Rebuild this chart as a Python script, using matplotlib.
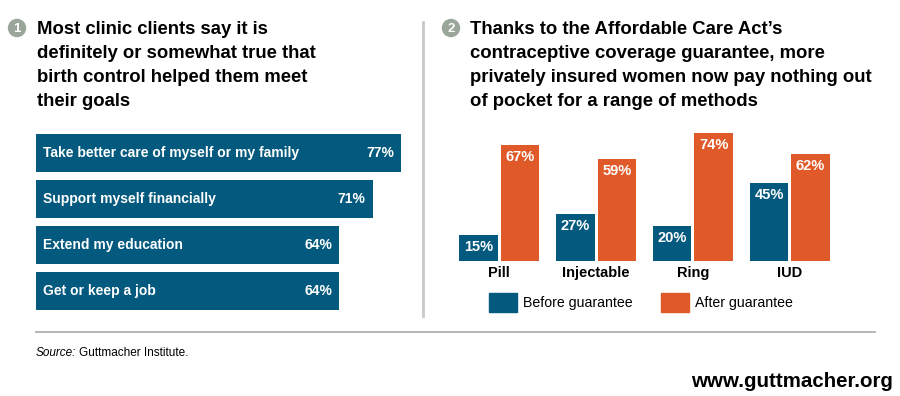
import numpy as np
import matplotlib
matplotlib.use("Agg")
import matplotlib.pyplot as plt
from matplotlib.patches import Circle, Rectangle

# data
goals = ["Take better care of myself or my family", "Support myself financially",
         "Extend my education", "Get or keep a job"]
goal_pct = [77, 71, 64, 64]

methods = ["Pill", "Injectable", "Ring", "IUD"]
before = [15, 27, 20, 45]
after = [67, 59, 74, 62]
legend_labels = ["Before guarantee", "After guarantee"]

title1 = ["Most clinic clients say it is", "definitely or somewhat true that",
          "birth control helped them meet", "their goals"]
title2 = ["Thanks to the Affordable Care Act\u2019s", "contraceptive coverage guarantee, more",
          "privately insured women now pay nothing out", "of pocket for a range of methods"]

BLUE = "#045a7e"
ORANGE = "#e05a29"
GREY_DOT = "#9ba69b"

plt.rcParams['font.family'] = ['Liberation Sans', 'DejaVu Sans']

W, H = 900, 396
fig = plt.figure(figsize=(W / 100, H / 100), dpi=100)
fig.patch.set_facecolor("white")


def fx(x):
    return x / W


def fy(y):
    return 1 - y / H


def ax_rect(x0, y0, x1, y1):
    # pixel box (top-left origin) -> figure fraction rect
    return [fx(x0), fy(y1), (x1 - x0) / W, (y1 - y0) / H]


# overlay axes for decorations, pixel coords
deco = fig.add_axes([0, 0, 1, 1])
deco.set_xlim(0, W)
deco.set_ylim(H, 0)
deco.axis("off")

# numbered circles
for cx, cy, n in [(17, 28, "1"), (451, 28, "2")]:
    deco.add_patch(Circle((cx, cy), 8.5, color=GREY_DOT))
    deco.text(cx, cy + 0.5, n, color="white", fontsize=9.5, fontweight="bold",
              ha="center", va="center")

# titles, one line at a time
for i, line in enumerate(title1):
    deco.text(37, 34.3 + 24 * i, line, fontsize=13.3, fontweight="bold",
              ha="left", va="baseline", color="black")
for i, line in enumerate(title2):
    deco.text(470, 34.3 + 24 * i, line, fontsize=13.3, fontweight="bold",
              ha="left", va="baseline", color="black")

# divider and bottom rule
deco.plot([422.7, 422.7], [22, 316], color="#c9c9c9", lw=2)
deco.plot([36, 875], [331.7, 331.7], color="#b0b0b0", lw=1.3)

# source and url
src = deco.text(36, 356, "Source:", fontsize=8.5, style="italic", ha="left", va="baseline")
fig.canvas.draw()
bb = src.get_window_extent(renderer=fig.canvas.get_renderer())
deco.text(bb.x1 + 3, 356, "Guttmacher Institute.", fontsize=8.5, ha="left", va="baseline")
deco.text(893, 386.7, "www.guttmacher.org", fontsize=14.8, fontweight="bold",
          ha="right", va="baseline")

# ---- left chart: horizontal bars
ax1 = fig.add_axes(ax_rect(36, 130, 36 + 80 * 4.74, 314))
y = np.arange(len(goals))
ax1.barh(y, goal_pct, height=0.826, color=BLUE)
ax1.set_xlim(0, 80)
ax1.set_ylim(len(goals) - 0.5, -0.5)
for i, (lab, v) in enumerate(zip(goals, goal_pct)):
    ax1.text(1.55, i, lab, color="white", fontsize=10, fontweight="bold",
             ha="left", va="center")
    ax1.text(v - 1.5, i, f"{v}%", color="white", fontsize=10, fontweight="bold",
             ha="right", va="center")
ax1.axis("off")

# ---- right chart: grouped columns
x = np.arange(len(methods))
ax2 = fig.add_axes(ax_rect(440, 260.5 - 80 * 1.72, 850, 260.5))
off = 0.214
bw = 0.398
ax2.bar(x - off, before, width=bw, color=BLUE)
ax2.bar(x + off, after, width=bw, color=ORANGE)
ax2.set_xlim(-(499.3 - 440) / 96.8, (850 - 499.3) / 96.8)
ax2.set_ylim(0, 80)
for i in range(len(methods)):
    for xs, v in [(x[i] - off, before[i]), (x[i] + off, after[i])]:
        ax2.text(xs, v - 3, f"{v}%", color="white", fontsize=10.5, fontweight="bold",
                 ha="center", va="top")
    ax2.text(x[i], -3, methods[i], color="black", fontsize=10.5, fontweight="bold",
             ha="center", va="top")
ax2.axis("off")

# legend
for sx, col, lab in [(489, BLUE, legend_labels[0]), (661, ORANGE, legend_labels[1])]:
    deco.add_patch(Rectangle((sx, 293), 28, 19, color=col))
    deco.text(sx + 34, 302.5, lab, fontsize=10.2, ha="left", va="center")

fig.savefig("out.png", dpi=100, facecolor="white")
